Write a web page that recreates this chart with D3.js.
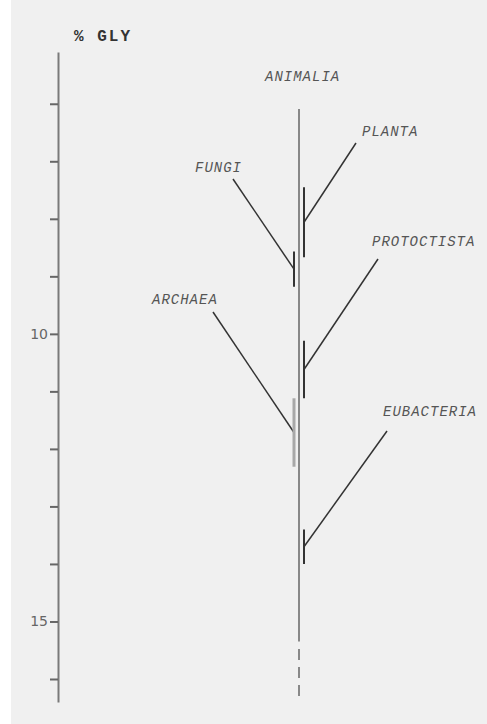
<!DOCTYPE html>
<html>
<head>
<meta charset="utf-8">
<script src="https://cdn.jsdelivr.net/npm/d3@7/dist/d3.min.js"></script>
<style>
  html, body { margin: 0; padding: 0; background: #ffffff; }
  svg { display: block; }
</style>
</head>
<body>
<svg id="chart" width="487" height="724"></svg>
<script>
// Glycine content (% GLY) ranges by kingdom
const kingdoms   = ["FUNGI", "PLANTA", "PROTOCTISTA", "ARCHAEA", "EUBACTERIA"];
const glyLow     = [8.57, 7.45, 10.12, 11.12, 13.40];
const glyHigh    = [9.18, 8.67, 11.12, 12.31, 14.00];
const branchSide = ["left", "right", "right", "left", "right"];

// Animalia trunk: solid range, then an uncertain (dashed) extension
const animaliaLow      = 6.09;
const animaliaHigh     = 15.35;
const animaliaDashFrom = 15.48;
const animaliaDashTo   = 16.33;

// Axis
const axisDomain  = [5.1, 16.4];
const tickValues  = [6, 7, 8, 9, 10, 11, 12, 13, 14, 15, 16];
const tickLabeled = [10, 15];
const axisTitle   = "% GLY";

// Label placement (pixel layout) and where each leader line starts
const labelLayout = [
  { x: 195, y: 172, lx: 233, ly: 179 },
  { x: 362, y: 136, lx: 356, ly: 143 },
  { x: 372, y: 246, lx: 378, ly: 259 },
  { x: 152, y: 304, lx: 213, ly: 312 },
  { x: 383, y: 416, lx: 387, ly: 431 }
];

const svg = d3.select("#chart");
const W = 487, H = 724;

// page background
svg.append("rect").attr("width", W).attr("height", H).attr("fill", "#ffffff");
svg.append("rect").attr("x", 11).attr("y", 0).attr("width", W - 11).attr("height", H)
  .attr("fill", "#f0f0f0");

const y = d3.scaleLinear().domain(axisDomain).range([52, 702]);
const axisX = 58;
const trunkX = 299;
const barOffset = 5;

// vertical axis
const axis = d3.axisLeft(y)
  .tickValues(tickValues)
  .tickSize(8)
  .tickSizeOuter(0)
  .tickPadding(2)
  .tickFormat(d => tickLabeled.includes(d) ? String(d) : "");

const gAxis = svg.append("g")
  .attr("transform", `translate(${axisX},0)`)
  .call(axis);
gAxis.select(".domain").attr("stroke", "#7a7a7a").attr("stroke-width", 2);
gAxis.selectAll(".tick line").attr("stroke", "#666").attr("stroke-width", 2);
gAxis.selectAll(".tick text")
  .attr("fill", "#666")
  .attr("font-family", "'DejaVu Sans', sans-serif")
  .attr("font-size", 14);

// axis title
svg.append("text")
  .attr("x", 74).attr("y", 41)
  .attr("font-family", "'Liberation Mono', monospace")
  .attr("font-weight", "bold")
  .attr("font-size", 16)
  .attr("letter-spacing", 2)
  .attr("fill", "#333")
  .text(axisTitle);

// Animalia trunk
svg.append("line")
  .attr("x1", trunkX).attr("x2", trunkX)
  .attr("y1", y(animaliaLow)).attr("y2", y(animaliaHigh))
  .attr("stroke", "#888").attr("stroke-width", 2);
svg.append("line")
  .attr("x1", trunkX).attr("x2", trunkX)
  .attr("y1", y(animaliaDashFrom)).attr("y2", y(animaliaDashTo))
  .attr("stroke", "#888").attr("stroke-width", 2)
  .attr("stroke-dasharray", "11,7");

const labelFont = {
  family: "'Liberation Mono', monospace",
  size: 14
};

svg.append("text")
  .attr("x", 265).attr("y", 81)
  .attr("font-family", labelFont.family)
  .attr("font-style", "italic")
  .attr("font-size", labelFont.size)
  .attr("letter-spacing", 1)
  .attr("fill", "#555")
  .text("ANIMALIA");

// kingdom ranges
const rows = kingdoms.map((k, i) => ({
  name: k, lo: glyLow[i], hi: glyHigh[i], side: branchSide[i], layout: labelLayout[i]
}));

const bx = d => trunkX + (d.side === "left" ? -barOffset : barOffset);

// leader lines from label to the midpoint of each range bar
svg.selectAll("line.leader").data(rows).join("line")
  .attr("class", "leader")
  .attr("x1", d => d.layout.lx).attr("y1", d => d.layout.ly)
  .attr("x2", d => bx(d)).attr("y2", d => y((d.lo + d.hi) / 2))
  .attr("stroke", "#333").attr("stroke-width", 1.5);

svg.selectAll("line.range").data(rows).join("line")
  .attr("class", "range")
  .attr("x1", bx).attr("x2", bx)
  .attr("y1", d => y(d.lo)).attr("y2", d => y(d.hi))
  .attr("stroke", d => d.name === "ARCHAEA" ? "#a8a8a8" : "#333")
  .attr("stroke-width", d => d.name === "ARCHAEA" ? 3 : 2);

svg.selectAll("text.kingdom").data(rows).join("text")
  .attr("class", "kingdom")
  .attr("x", d => d.layout.x).attr("y", d => d.layout.y)
  .attr("font-family", labelFont.family)
  .attr("font-style", "italic")
  .attr("font-size", labelFont.size)
  .attr("letter-spacing", 1)
  .attr("fill", "#555")
  .text(d => d.name);
</script>
</body>
</html>
